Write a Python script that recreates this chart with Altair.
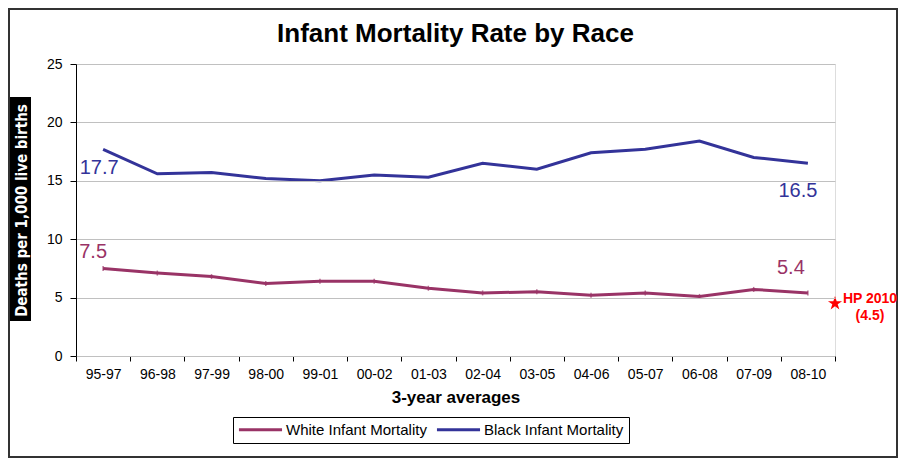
import altair as alt
import pandas as pd

categories = ["95-97", "96-98", "97-99", "98-00", "99-01", "00-02", "01-03",
              "02-04", "03-05", "04-06", "05-07", "06-08", "07-09", "08-10"]
white = [7.5, 7.1, 6.8, 6.2, 6.4, 6.4, 5.8, 5.4, 5.5, 5.2, 5.4, 5.1, 5.7, 5.4]
black = [17.7, 15.6, 15.7, 15.2, 15.0, 15.5, 15.3, 16.5, 16.0, 17.4, 17.7, 18.4, 17.0, 16.5]
series_names = ["White Infant Mortality", "Black Infant Mortality"]
series_colors = ["#993366", "#333399"]
target_value = [4.5]
target_label = ["HP 2010\n(4.5)"]

rows = []
for name, vals in zip(series_names, [white, black]):
    for c, v in zip(categories, vals):
        rows.append({"period": c, "rate": v, "series": name, "label": f"{v:.1f}"})
df = pd.DataFrame(rows)

W, H = 759, 292
FONT = "Liberation Sans"

x_enc = alt.X("period:N", sort=categories,
              scale=alt.Scale(type="band", paddingInner=0, paddingOuter=0),
              axis=alt.Axis(title="3-year averages", labelAngle=0, tickBand="extent",
                            domainColor="black", tickColor="black", tickSize=5,
                            labelFont=FONT, labelFontSize=14, labelColor="black",
                            labelPadding=6, titleFont=FONT, titleFontSize=17,
                            titleFontWeight="bold", titleColor="black", titlePadding=8,
                            grid=False))
y_enc = alt.Y("rate:Q", scale=alt.Scale(domain=[0, 25], nice=False),
              axis=alt.Axis(title="Deaths per 1,000 live births", values=[0, 5, 10, 15, 20, 25],
                            domainColor="black", tickColor="black", tickSize=6,
                            labelFont=FONT, labelFontSize=14, labelColor="black",
                            labelPadding=8, gridColor="#c0c0c0", gridWidth=1,
                            titleFont="DejaVu Sans Condensed", titleFontSize=15,
                            titleFontWeight="bold", titleColor="white",
                            titleX=-55, titleY=146, titleAngle=270,
                            titleAlign="center", titleBaseline="middle", zindex=1))
color_enc = alt.Color("series:N", scale=alt.Scale(domain=series_names, range=series_colors),
                      legend=alt.Legend(title=None, orient="none", legendX=157, legendY=353,
                                        direction="horizontal", strokeColor="black",
                                        padding=5, symbolType="M-4,0L4,0", symbolSize=116,
                                        symbolStrokeWidth=3, symbolOffset=15,
                                        labelFont=FONT, labelFontSize=15,
                                        labelColor="black", labelOffset=18, columnPadding=3))

base = alt.Chart(df)

outer = alt.Chart(pd.DataFrame({"k": [0]})).mark_rect(
    fillOpacity=0, stroke="#333333", strokeWidth=2
).encode(x=alt.value(-67), x2=alt.value(W + 62), y=alt.value(-55), y2=alt.value(H + 101))

title_bg = alt.Chart(pd.DataFrame({"k": [0]})).mark_rect(color="black").encode(
    x=alt.value(-66), x2=alt.value(-45), y=alt.value(33), y2=alt.value(257))

lines = base.mark_line(strokeWidth=3).encode(x=x_enc, y=y_enc, color=color_enc)

ticks = base.transform_filter(alt.datum.series == series_names[0]).mark_tick(
    orient="vertical", size=5, thickness=1.5).encode(
    x=alt.X("period:N", sort=categories), y="rate:Q",
    color=alt.Color("series:N", legend=None))

def end_label(series, cat, dx, dy, color):
    return base.transform_filter(
        (alt.datum.series == series) & (alt.datum.period == cat)
    ).mark_text(font=FONT, fontSize=20, color=color, dx=dx, dy=dy,
                align="center", baseline="middle").encode(
        x=alt.X("period:N", sort=categories), y="rate:Q", text="label:N")

lab1 = end_label(series_names[1], categories[0], -4, 19, series_colors[1])
lab2 = end_label(series_names[0], categories[0], -10, -16, series_colors[0])
lab3 = end_label(series_names[1], categories[-1], -10, 28, series_colors[1])
lab4 = end_label(series_names[0], categories[-1], -17, -25, series_colors[0])

tdf = pd.DataFrame({"rate": target_value, "label": target_label})
star = alt.Chart(tdf).mark_point(
    shape="M0,-1L0.2245,-0.309L0.951,-0.309L0.363,0.118L0.588,0.809L0,0.382L-0.588,0.809L-0.363,0.118L-0.951,-0.309L-0.2245,-0.309Z",
    filled=True, color="red", size=220, opacity=1).encode(
    x=alt.value(W), y=alt.Y("rate:Q"))
star_text = alt.Chart(tdf).mark_text(
    font=FONT, fontSize=14, fontWeight="bold", color="red", align="center",
    baseline="middle", lineBreak="\n", lineHeight=17, dx=0, dy=-4).encode(
    x=alt.value(W + 35), y=alt.Y("rate:Q"), text="label:N")

chart = alt.layer(outer, title_bg, lines, ticks, lab1, lab2, lab3, lab4, star, star_text).properties(
    width=W, height=H,
    title=alt.TitleParams("Infant Mortality Rate by Race", font=FONT, fontSize=26,
                          fontWeight="bold", color="black", anchor="middle", offset=10, dy=49),
    autosize=alt.AutoSizeParams(type="none"),
    padding={"left": 68, "top": 56, "right": 63, "bottom": 102},
).configure_view(stroke="#a0a0a0", strokeWidth=2).configure(background="white")

chart.save("out.html", embed_options={"renderer": "svg", "actions": False})
